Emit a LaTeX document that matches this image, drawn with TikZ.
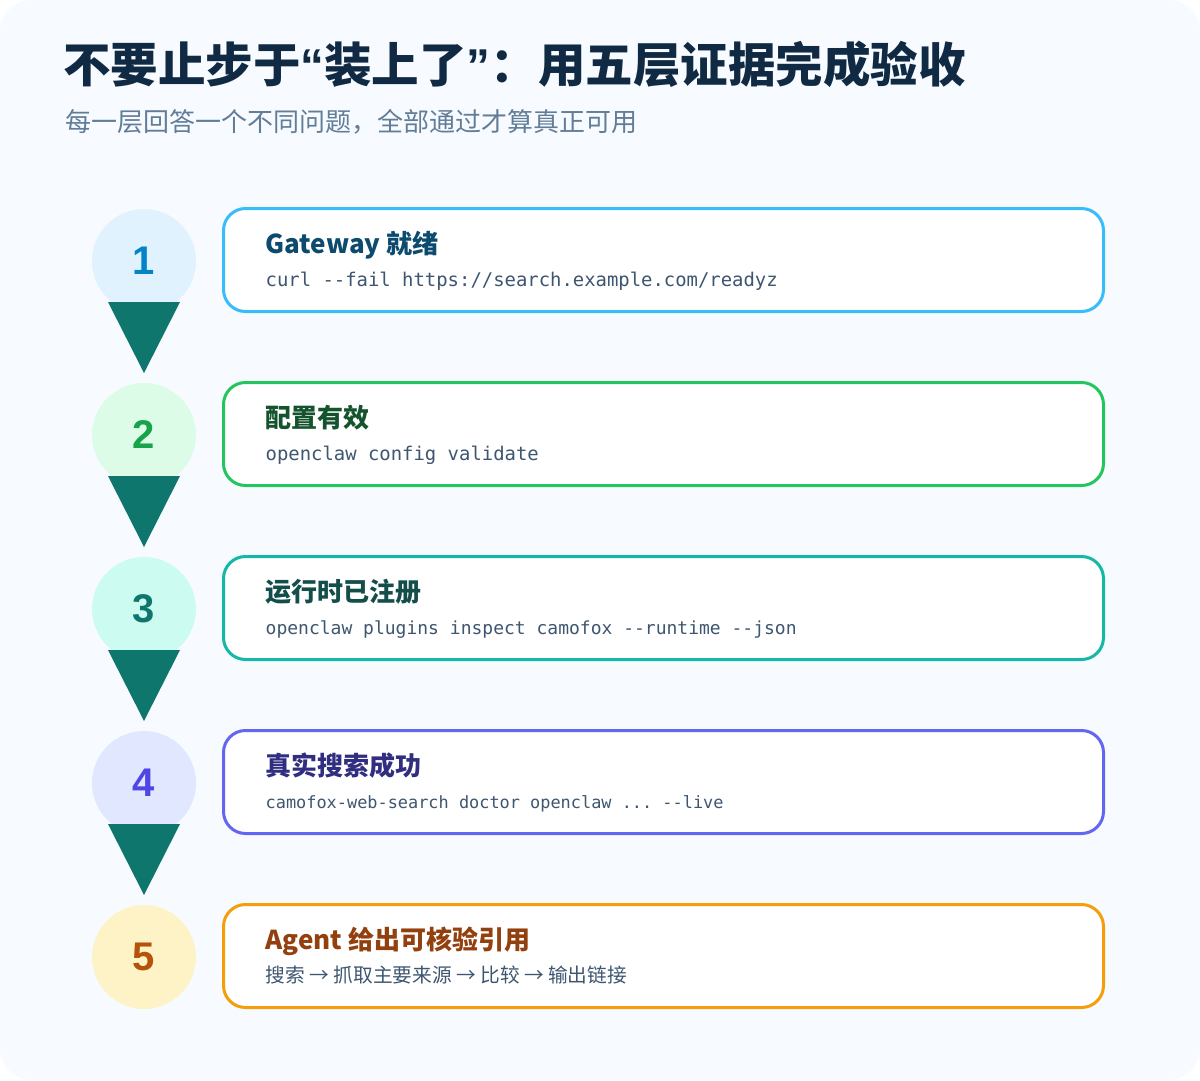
\documentclass[tikz,border=0pt]{standalone}
\usepackage{fontspec}
\setmainfont{Noto Sans CJK SC}
\newfontfamily\cjk{Noto Sans CJK SC}
\newfontfamily\numfont{Liberation Sans}
\newfontfamily\monofont{DejaVu Sans Mono}[Ligatures=NoCommon]
\usetikzlibrary{calc}
\frenchspacing
\definecolor{pagebg}{HTML}{F7FBFF}
\definecolor{titlec}{HTML}{102A43}
\definecolor{subc}{HTML}{627D98}
\definecolor{cmdc}{HTML}{3E5670}
\definecolor{tric}{HTML}{0F766E}
\definecolor{bdA}{HTML}{38BDF8}\definecolor{fillA}{HTML}{E0F2FE}\definecolor{numA}{HTML}{0284C7}\definecolor{ttA}{HTML}{0C4A6E}
\definecolor{bdB}{HTML}{22C55E}\definecolor{fillB}{HTML}{DCFCE7}\definecolor{numB}{HTML}{16A34A}\definecolor{ttB}{HTML}{14532D}
\definecolor{bdC}{HTML}{14B8A6}\definecolor{fillC}{HTML}{CCFBF1}\definecolor{numC}{HTML}{0F766E}\definecolor{ttC}{HTML}{134E4A}
\definecolor{bdD}{HTML}{6366F1}\definecolor{fillD}{HTML}{E0E7FF}\definecolor{numD}{HTML}{4F46E5}\definecolor{ttD}{HTML}{312E81}
\definecolor{bdE}{HTML}{F59E0B}\definecolor{fillE}{HTML}{FEF3C7}\definecolor{numE}{HTML}{B45309}\definecolor{ttE}{HTML}{92400E}
\tikzset{
  stepcircle/.style={circle, inner sep=0pt, minimum size=104pt, fill=#1,
    font=\numfont\bfseries\fontsize{40}{44}\selectfont},
  stepbox/.style={draw=#1, fill=white, line width=3pt, rounded corners=22pt,
    minimum width=880pt, minimum height=103pt, inner sep=0pt},
  steptitle/.style={anchor=base west, inner sep=0pt, text=#1,
    font=\cjk\bfseries\fontsize{26}{30}\selectfont},
  stepcmd/.style={anchor=base west, inner sep=0pt, text=cmdc,
    font=\monofont\fontsize{#1}{22}\selectfont},
  steptext/.style={anchor=base west, inner sep=0pt, text=cmdc,
    font=\cjk\fontsize{19.7}{23}\selectfont},
  arrowtri/.style={fill=tric}
}
\newcommand{\qmark}[1]{{\numfont\bfseries #1}}
\begin{document}
\begin{tikzpicture}[x=1pt,y=-1pt]
\useasboundingbox (0,0) rectangle (1200,1080);
\fill[white] (0,0) rectangle (1200,1080);
\fill[pagebg, rounded corners=32pt] (0,0) rectangle (1200,1080);

\node[anchor=base west, inner sep=0pt, text=titlec, font=\cjk\bfseries\fontsize{47.5}{52}\selectfont] (title) at (63,82) {不要止步于\qmark{“}装上了\qmark{”}：用五层证据完成验收};
\node[anchor=base west, inner sep=0pt, text=subc, font=\cjk\fontsize{26}{30}\selectfont] (subtitle) at (65,131) {每一层回答一个不同问题，全部通过才算真正可用};

% circles
\node[stepcircle=fillA, text=numA] (c1) at (144,261) {1};
\node[stepcircle=fillB, text=numB] (c2) at (144,435) {2};
\node[stepcircle=fillC, text=numC] (c3) at (144,609) {3};
\node[stepcircle=fillD, text=numD] (c4) at (144,783) {4};
\node[stepcircle=fillE, text=numE] (c5) at (144,957) {5};

% arrows (triangles)
\foreach \c in {c1,c2,c3,c4}{
  \fill[arrowtri] ($(\c.center)+(-36,41)$) -- ($(\c.center)+(36,41)$) -- ($(\c.center)+(0,112)$) -- cycle;
}

% boxes
\node[stepbox=bdA] (b1) at (663.5,260) {};
\node[stepbox=bdB] (b2) at (663.5,434) {};
\node[stepbox=bdC] (b3) at (663.5,608) {};
\node[stepbox=bdD] (b4) at (663.5,782) {};
\node[stepbox=bdE] (b5) at (663.5,956) {};

\node[steptitle=ttA] (t1) at ($(b1.west)+(43.5,-7)$) {Gateway 就绪};
\node[stepcmd=18.9] (m1) at ($(b1.west)+(43.5,26)$) {curl --fail https://search.example.com/readyz};

\node[steptitle=ttB] (t2) at ($(b2.west)+(43.5,-7)$) {配置有效};
\node[stepcmd=18.9] (m2) at ($(b2.west)+(43.5,26)$) {openclaw config validate};

\node[steptitle=ttC] (t3) at ($(b3.west)+(43.5,-7)$) {运行时已注册};
\node[stepcmd=18] (m3) at ($(b3.west)+(43.5,26)$) {openclaw plugins inspect camofox --runtime --json};

\node[steptitle=ttD] (t4) at ($(b4.west)+(43.5,-7)$) {真实搜索成功};
\node[stepcmd=16.9] (m4) at ($(b4.west)+(43.5,26)$) {camofox-web-search doctor openclaw ... --live};

\node[steptitle=ttE] (t5) at ($(b5.west)+(43.5,-7)$) {Agent 给出可核验引用};
\node[steptext] (m5) at ($(b5.west)+(43.5,26)$) {搜索 → 抓取主要来源 → 比较 → 输出链接};
\end{tikzpicture}
\end{document}
